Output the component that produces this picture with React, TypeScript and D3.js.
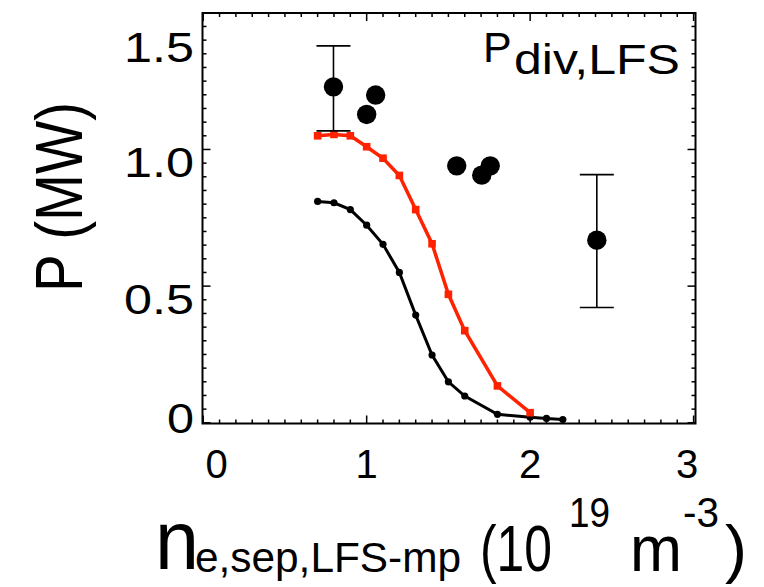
import React from "react";
import * as d3 from "d3";

// Model curve (red, squares)
const redX = [0.7, 0.8, 0.9, 1.0, 1.1, 1.2, 1.3, 1.4, 1.5, 1.6, 1.8, 2.0];
const redY = [1.05, 1.055, 1.05, 1.01, 0.968, 0.905, 0.78, 0.655, 0.47, 0.337, 0.135, 0.037];
// Model curve (black, small circles)
const blackX = [0.7, 0.8, 0.9, 1.0, 1.1, 1.2, 1.3, 1.4, 1.5, 1.6, 1.8, 2.0, 2.1, 2.2];
const blackY = [0.81, 0.805, 0.78, 0.723, 0.653, 0.55, 0.394, 0.248, 0.15, 0.098, 0.031, 0.02, 0.016, 0.012];
// Experimental points (large circles)
const expX = [0.797, 1.0, 1.055, 1.551, 1.704, 1.756, 2.408];
const expY = [1.229, 1.128, 1.199, 0.94, 0.906, 0.94, 0.668];
// Error bars
const errX = [0.797, 2.408];
const errLo = [1.068, 0.422];
const errHi = [1.379, 0.908];
// Ticks
const xTicks = [0, 1, 2, 3];
const xTickLabels = ["0", "1", "2", "3"];
const yTicks = [0, 0.5, 1.0, 1.5];
const yTickLabels = ["0", "0.5", "1.0", "1.5"];

const FONT = "'Liberation Sans', Arial, Helvetica, sans-serif";

export default function App() {
  const L = 202.5, R = 695.5, T = 13, B = 423.5;
  const x = d3.scaleLinear().domain([0, 3]).range([203.2, 693.6]);
  const y = d3.scaleLinear().domain([0, 1.5]).range([422.8, 12.8]);

  const redPts = redX.map((v, i) => [v, redY[i]] as [number, number]);
  const blackPts = blackX.map((v, i) => [v, blackY[i]] as [number, number]);
  const line = d3.line<[number, number]>().x(d => x(d[0])).y(d => y(d[1]));

  const xMinor = d3.range(0, 30).map(i => i / 10).filter(v => !xTicks.includes(v));
  const yMinor = d3.range(0, 31).map(i => i / 20).filter(v => !yTicks.some(t => Math.abs(t - v) < 1e-9));

  const major = 8, minor = 4;
  const base = 569;

  return (
    <svg width={764} height={587} style={{ position: "absolute", left: 0, top: 0, background: "#fff" }}>
      <rect x={0} y={0} width={764} height={587} fill="#fff" />
      {/* ticks */}
      <g stroke="#000" strokeWidth={1.5}>
        {xTicks.map(v => (
          <g key={"xM" + v}>
            <line x1={x(v)} x2={x(v)} y1={B} y2={B - major} />
            <line x1={x(v)} x2={x(v)} y1={T} y2={T + major} />
          </g>
        ))}
        {xMinor.map(v => (
          <g key={"xm" + v}>
            <line x1={x(v)} x2={x(v)} y1={B} y2={B - minor} />
            <line x1={x(v)} x2={x(v)} y1={T} y2={T + minor} />
          </g>
        ))}
        {yTicks.map(v => (
          <g key={"yM" + v}>
            <line x1={L} x2={L + major} y1={y(v)} y2={y(v)} />
            <line x1={R} x2={R - major} y1={y(v)} y2={y(v)} />
          </g>
        ))}
        {yMinor.map(v => (
          <g key={"ym" + v}>
            <line x1={L} x2={L + minor} y1={y(v)} y2={y(v)} />
            <line x1={R} x2={R - minor} y1={y(v)} y2={y(v)} />
          </g>
        ))}
      </g>
      <rect x={L} y={T} width={R - L} height={B - T} fill="none" stroke="#000" strokeWidth={2} />

      {/* black model curve */}
      <path d={line(blackPts) || ""} fill="none" stroke="#000" strokeWidth={3} />
      {blackPts.map((p, i) => (
        <circle key={"b" + i} cx={x(p[0])} cy={y(p[1])} r={3.6} fill="#000" />
      ))}

      {/* red model curve */}
      <path d={line(redPts) || ""} fill="none" stroke="#ff2200" strokeWidth={3.5} />
      {redPts.map((p, i) => (
        <rect key={"r" + i} x={x(p[0]) - 3.8} y={y(p[1]) - 3.8} width={7.6} height={7.6} fill="#ff2200" />
      ))}

      {/* error bars */}
      <g stroke="#000" strokeWidth={1.6}>
        {errX.map((v, i) => (
          <g key={"e" + i}>
            <line x1={x(v)} x2={x(v)} y1={y(errLo[i])} y2={y(errHi[i])} />
            <line x1={x(v) - 17} x2={x(v) + 17} y1={y(errLo[i])} y2={y(errLo[i])} />
            <line x1={x(v) - 17} x2={x(v) + 17} y1={y(errHi[i])} y2={y(errHi[i])} />
          </g>
        ))}
      </g>
      {/* experimental points */}
      {expX.map((v, i) => (
        <circle key={"p" + i} cx={x(v)} cy={y(expY[i])} r={9.7} fill="#000" />
      ))}

      {/* x tick labels */}
      {xTicks.map((v, i) => (
        <text key={"xl" + v} x={Math.min(Math.max(x(v), 216.5), 687)} y={478} fontFamily={FONT} fontSize={40}
          textAnchor="middle">{xTickLabels[i]}</text>
      ))}
      {/* y tick labels */}
      {yTicks.map((v, i) => {
        const lab = yTickLabels[i];
        const w = lab.length === 1 ? 27 : 70;
        const by = Math.min(Math.max(y(v) + 27.5, 62), 433);
        return (
          <text key={"yl" + v} x={194 - w} y={by} fontFamily={FONT} fontSize={42}
            textLength={w} lengthAdjust="spacingAndGlyphs">{lab}</text>
        );
      })}

      {/* y axis title */}
      <text transform="translate(82,292) rotate(-90)" fontFamily={FONT} fontSize={67}
        textLength={190} lengthAdjust="spacingAndGlyphs">P (MW)</text>

      {/* panel label */}
      <text x={483} y={62} fontFamily={FONT} fontSize={43}>P</text>
      <text x={514} y={74} fontFamily={FONT} fontSize={43} textLength={166} lengthAdjust="spacingAndGlyphs">div,LFS</text>

      {/* x axis title */}
      <g fontFamily={FONT}>
        <text x={155} y={base} fontSize={84} textLength={44} lengthAdjust="spacingAndGlyphs">n</text>
        <text x={195} y={base + 3} fontSize={42} textLength={266} lengthAdjust="spacingAndGlyphs">e,sep,LFS-mp</text>
        <text x={480} y={base + 2} fontSize={65} textLength={72} lengthAdjust="spacingAndGlyphs">(10</text>
        <text x={569} y={base - 42} fontSize={42} textLength={41} lengthAdjust="spacingAndGlyphs">19</text>
        <text x={630} y={base + 2} fontSize={65} textLength={52} lengthAdjust="spacingAndGlyphs">m</text>
        <text x={683} y={base - 42} fontSize={42} textLength={36} lengthAdjust="spacingAndGlyphs">-3</text>
        <text x={725} y={base + 2} fontSize={65} textLength={22} lengthAdjust="spacingAndGlyphs">)</text>
      </g>
    </svg>
  );
}
